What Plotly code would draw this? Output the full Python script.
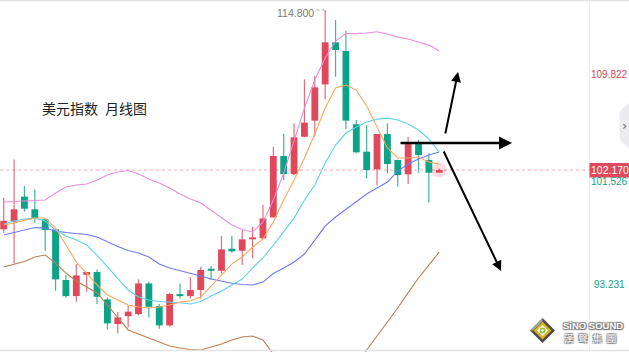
import plotly.graph_objects as go

W, H = 629, 352
PLOT_W = 589

# ---------------- data (monthly US dollar index) ----------------
months = list(range(43))
open_ = [97.49, 98.09, 100.07, 99.07, 98.28, 97.49, 93.49, 92.22, 93.91, 94.12,
         91.96, 90.01, 90.64, 90.80, 93.22, 91.43, 89.91, 92.38, 92.22, 92.70,
         94.33, 94.22, 95.96, 95.80, 96.70, 96.78, 98.43, 103.28, 101.85, 104.80,
         106.07, 108.93, 112.25, 111.57, 105.78, 103.62, 102.22, 105.01, 102.96, 101.83,
         104.28, 102.96, 101.96]
close = [98.17, 99.07, 99.12, 98.35, 97.43, 93.54, 92.22, 93.85, 94.12, 92.17,
         90.07, 90.54, 90.99, 93.22, 91.38, 89.91, 92.38, 92.22, 92.70, 94.28,
         94.22, 95.91, 95.75, 96.70, 96.75, 98.35, 103.28, 101.85, 104.75, 105.91,
         108.70, 112.25, 111.64, 106.07, 103.57, 102.17, 105.01, 102.64, 101.78, 104.28,
         103.35, 101.96, 102.17]
high = [99.96, 103.01, 100.91, 100.64, 98.35, 97.49, 93.88, 94.75, 94.12, 94.33,
        92.12, 90.96, 91.48, 93.54, 93.35, 91.59, 92.49, 93.22, 93.70, 94.54,
        94.59, 96.96, 96.96, 97.43, 97.70, 99.41, 104.01, 105.01, 105.85, 109.33,
        109.59, 114.80, 114.01, 113.17, 106.12, 105.72, 105.01, 105.85, 103.01, 104.80,
        104.54, 103.49, 102.30]
low = [97.20, 94.80, 98.88, 98.01, 95.80, 92.64, 92.09, 91.78, 92.57, 91.59,
       89.59, 89.28, 89.75, 90.72, 90.54, 89.64, 89.80, 92.04, 92.04, 92.04,
       93.49, 94.01, 95.64, 94.67, 95.20, 96.70, 98.43, 101.38, 101.78, 104.75,
       104.80, 107.75, 109.54, 105.38, 103.49, 101.51, 100.95, 101.91, 100.85, 101.07,
       101.96, 99.59, 101.96]

ma_orange = [97.83, 97.99, 98.22, 98.38, 98.38, 97.59, 96.25, 94.91, 94.04, 93.10,
             92.31, 91.91, 91.52, 91.36, 91.28, 91.36, 91.52, 91.75, 91.83, 92.15,
             93.02, 93.96, 94.75, 95.31, 96.09, 96.73, 98.07, 99.80, 101.38, 103.12,
             105.01, 107.06, 108.64, 108.88, 108.48, 107.22, 105.56, 103.91, 103.12, 103.12,
             103.20, 102.80, 102.64]
ma_cyan = [97.91, 98.15, 98.30, 98.38, 98.15, 97.44, 96.96, 96.65, 96.25, 95.46,
           94.52, 93.57, 92.70, 92.15, 91.91, 91.79, 91.75, 91.70, 91.60, 91.79,
           92.23, 92.62, 93.10, 93.57, 94.44, 95.23, 96.25, 97.36, 98.38, 99.80,
           100.99, 102.72, 104.14, 105.09, 105.56, 105.96, 106.19, 106.27, 106.12, 105.80,
           105.33, 104.62, 103.59]
ma_blue = [97.04, 97.24, 97.44, 97.63, 97.59, 97.36, 97.24, 97.16, 97.08, 96.88,
           96.49, 96.13, 95.82, 95.62, 95.31, 94.75, 94.44, 94.24, 94.04, 93.81,
           93.57, 93.37, 93.23, 93.14, 93.10, 93.33, 94.00, 94.44, 94.91, 95.54,
           96.65, 97.75, 98.46, 99.09, 99.65, 100.28, 100.75, 101.22, 102.09, 102.64,
           103.04, 103.35, 103.59]
band_upper = [99.65, 99.68, 99.75, 99.78, 99.80, 100.36, 100.83, 100.99, 101.07, 101.38,
              101.78, 102.01, 102.13, 101.85, 101.46, 101.14, 100.75, 100.28, 99.88, 99.57,
              99.01, 98.38, 97.83, 97.48, 97.28, 98.07, 99.80, 101.93, 104.54, 107.06,
              109.27, 111.01, 112.35, 112.94, 112.94, 112.98, 113.08, 112.90, 112.66, 112.51,
              112.27, 112.03, 111.56]
band_lower = [94.52, 94.75, 94.95, 95.31, 95.46, 94.83, 94.04, 93.41, 92.94, 92.47,
              91.52, 90.49, 89.55, 89.23, 88.91, 88.60, 88.28, 88.13, 88.01, 87.97,
              88.20, 88.44, 88.76, 88.99, 89.07, 88.76, 87.65, 86.00, 84.42, 83.23,
              83.00, 83.10, 84.00, 85.20, 86.78, 87.97, 89.07, 90.18, 91.28, 92.50,
              93.65, 94.67, 95.70]

last_price = 102.170
label_upper = 109.822
label_mid = 101.526
label_lower = 93.231
peak_price = 114.800
title_text = "美元指数\u2002月线图"

# ---------------- styles ----------------
RED = "#E0485B"
GREEN = "#0DA386"
Y_RANGE = [87.81, 115.59]
X_RANGE = [-0.357, 56.44]
NUM_FONT = "Liberation Sans, Arial, sans-serif"


def px(x):
    return x / W


def py(y):
    return 1 - y / H


fig = go.Figure()

# candle bodies + wicks
for color, up in ((RED, True), (GREEN, False)):
    idx = [i for i in months if (close[i] >= open_[i]) == up]
    wx, wy = [], []
    for i in idx:
        wx += [i, i, None]
        wy += [low[i], high[i], None]
    fig.add_trace(go.Scatter(x=wx, y=wy, mode="lines",
                             line=dict(color=color, width=1.2), opacity=0.8,
                             hoverinfo="skip", showlegend=False))
    fig.add_trace(go.Bar(x=idx,
                         y=[max(abs(close[i] - open_[i]), 0.16) for i in idx],
                         base=[min(close[i], open_[i]) for i in idx],
                         width=0.66, marker=dict(color=color, line=dict(width=0)),
                         hoverinfo="skip", showlegend=False))

# glow on current candle
fig.add_trace(go.Scatter(x=[months[-1]], y=[last_price], mode="markers",
                         marker=dict(size=15, color="rgba(224,72,91,0.18)"),
                         hoverinfo="skip", showlegend=False))

# moving averages / bands
for series, color in ((band_upper, "#E58FDD"), (band_lower, "#BC7F55"),
                      (ma_blue, "#7278F2"), (ma_cyan, "#5ED3EA"),
                      (ma_orange, "#FFA75E")):
    fig.add_trace(go.Scatter(x=months, y=series, mode="lines",
                             line=dict(color=color, width=1.1),
                             hoverinfo="skip", showlegend=False))

shapes = []
# price dotted line
shapes.append(dict(type="line", xref="x domain", yref="y", x0=0, x1=1,
                   y0=last_price, y1=last_price,
                   line=dict(color="#F2AEB8", width=1, dash="dot"), layer="below"))
# frame lines
shapes.append(dict(type="line", xref="paper", yref="paper", x0=px(PLOT_W + 0.5), x1=px(PLOT_W + 0.5),
                   y0=0, y1=1, line=dict(color="#EDEDED", width=1)))
shapes.append(dict(type="line", xref="paper", yref="paper", x0=0, x1=1,
                   y0=py(0.5), y1=py(0.5), line=dict(color="#E2E2E2", width=1.5)))
shapes.append(dict(type="line", xref="paper", yref="paper", x0=0, x1=1,
                   y0=py(350.5), y1=py(350.5), line=dict(color="#E4E4E4", width=1.5)))
# last price box
shapes.append(dict(type="rect", xref="paper", yref="paper", x0=px(589.5), x1=1,
                   y0=py(177.5), y1=py(163), fillcolor=RED, line=dict(width=0)))
# peak leader
shapes.append(dict(type="line", xref="x", yref="y", x0=30.15, x1=30.95,
                   y0=peak_price, y1=peak_price,
                   line=dict(color="#AAAAAA", width=1, dash="dot")))


def poly(points):
    return "M " + " L ".join(f"{px(a):.5f},{py(b):.5f}" for a, b in points) + " Z"


# side tab
shapes.append(dict(type="path", xref="paper", yref="paper",
                   path=poly([(629, 103), (622.5, 108), (619.5, 113), (619.5, 138),
                              (622.5, 143), (629, 148)]),
                   fillcolor="#ECECF0", line=dict(width=0)))


# logo diamond
def diamond(cx, cy, r):
    return poly([(cx, cy - r), (cx + r, cy), (cx, cy + r), (cx - r, cy)])


cx, cy = 542.5, 330.5
shapes.append(dict(type="path", xref="paper", yref="paper", path=diamond(cx, cy, 12.5),
                   fillcolor="#4A4A4A", line=dict(width=0)))
shapes.append(dict(type="path", xref="paper", yref="paper",
                   path=poly([(cx, cy - 12.5), (cx - 12.5, cy), (cx - 9.5, cy), (cx, cy - 9.5)]),
                   fillcolor="#A8A8A8", line=dict(width=0)))
shapes.append(dict(type="path", xref="paper", yref="paper", path=diamond(cx, cy, 9.0),
                   fillcolor="#D8B21F", line=dict(width=0)))
shapes.append(dict(type="path", xref="paper", yref="paper", path=diamond(cx, cy, 5.5),
                   fillcolor="#FFFFFF", line=dict(width=0)))
shapes.append(dict(type="circle", xref="paper", yref="paper",
                   x0=px(cx - 3), x1=px(cx + 3), y0=py(cy + 3), y1=py(cy - 3),
                   fillcolor="#8DC63F", line=dict(width=0)))
shapes.append(dict(type="circle", xref="paper", yref="paper",
                   x0=px(cx - 1.2), x1=px(cx + 1.2), y0=py(cy + 1.2), y1=py(cy - 1.2),
                   fillcolor="#FFFFFF", line=dict(width=0)))

annotations = []
annotations.append(dict(text=title_text, xref="paper", yref="paper", x=px(40), y=py(108),
                        xanchor="left", yanchor="middle", showarrow=False,
                        font=dict(family="Noto Sans CJK SC", size=14, color="#222222")))
annotations.append(dict(text=f"{peak_price:.3f}", xref="x", yref="y", x=30.1, y=peak_price,
                        xanchor="right", yanchor="middle", yshift=-3, showarrow=False,
                        font=dict(family=NUM_FONT, size=10.5, color="#7A7A7A")))
for val, col, ys in ((label_upper, RED, -1.5), (label_mid, GREEN, -3.5), (label_lower, GREEN, -1.5)):
    annotations.append(dict(text=f"{val:.3f}", xref="paper", yref="y", x=px(609.5), y=val,
                            xanchor="center", yanchor="middle", yshift=ys, showarrow=False,
                            font=dict(family=NUM_FONT, size=10, color=col)))
annotations.append(dict(text=f"{last_price:.3f}", xref="paper", yref="paper", x=px(609.5),
                        y=py(170.3), xanchor="center", yanchor="middle", showarrow=False,
                        font=dict(family=NUM_FONT, size=10.5, color="#FFFFFF")))
annotations.append(dict(text="›", xref="paper", yref="paper", x=px(624.5), y=py(125.5),
                        xanchor="center", yanchor="middle", showarrow=False,
                        font=dict(family="DejaVu Sans", size=13, color="#666666")))
# logo text
LOGO_SHADOW = "1px 1px 1px #6A6A6A, -1px -1px 1px #8A8A8A, 1px -1px 1px #7A7A7A, -1px 1px 1px #7A7A7A"
annotations.append(dict(text="<b>SiNO SOUND</b>", xref="paper", yref="paper", x=px(561), y=py(325),
                        xanchor="left", yanchor="middle", showarrow=False,
                        font=dict(family="Liberation Sans", size=9.5, color="#FFFFFF",
                                  shadow=LOGO_SHADOW)))
annotations.append(dict(text="漢\u2002聲\u2002集\u2002團", xref="paper", yref="paper", x=px(562),
                        y=py(337.5), xanchor="left", yanchor="middle", showarrow=False,
                        font=dict(family="Noto Sans CJK TC", size=9.5, color="#FFFFFF",
                                  shadow=LOGO_SHADOW)))
# hand-drawn style arrows
for (tx, ty, hx, hy, w) in ((42.56, 104.93, 43.81, 109.91, 2.0),
                            (38.12, 104.30, 49.02, 104.30, 2.6),
                            (42.36, 103.75, 47.96, 94.20, 2.0)):
    annotations.append(dict(text="", x=hx, y=hy, ax=tx, ay=ty, xref="x", yref="y",
                            axref="x", ayref="y", showarrow=True, arrowhead=2,
                            arrowsize=1, arrowwidth=w, arrowcolor="#000000", standoff=0))

fig.update_layout(
    width=W, height=H,
    margin=dict(l=0, r=0, t=0, b=0),
    paper_bgcolor="#FFFFFF", plot_bgcolor="#FFFFFF",
    barmode="overlay", hovermode=False, showlegend=False,
    xaxis=dict(domain=[0, PLOT_W / W], range=X_RANGE, showgrid=False, zeroline=False,
               showticklabels=False, showline=False, fixedrange=True),
    yaxis=dict(range=Y_RANGE, showgrid=False, zeroline=False, showticklabels=False,
               showline=False, fixedrange=True),
    shapes=shapes, annotations=annotations,
)

fig.write_html("out.html", config=dict(displayModeBar=False))
